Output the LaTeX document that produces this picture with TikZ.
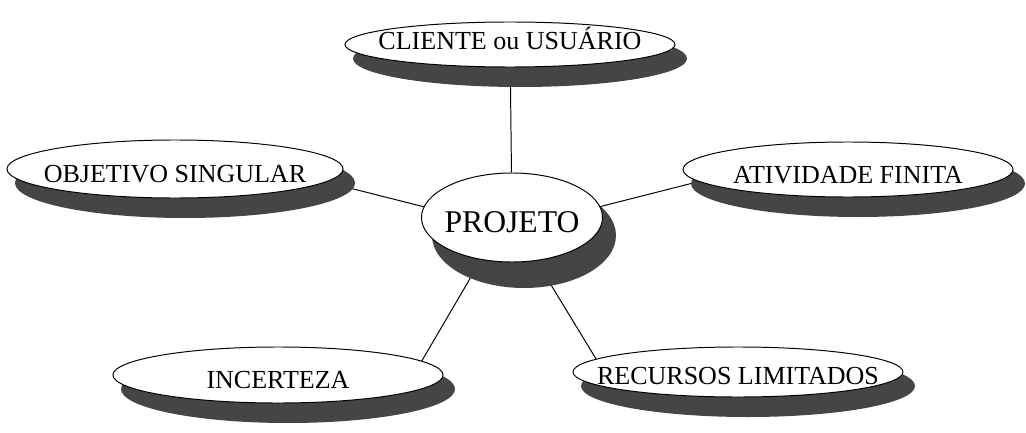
\documentclass[tikz,border=0pt]{standalone}
\usepackage{fontspec}
\setmainfont{Liberation Serif}
\usetikzlibrary{calc,shapes.geometric,backgrounds}
\definecolor{sombraCinza}{gray}{0.27}

\begin{document}
\begin{tikzpicture}[x=0.025cm, y=-0.025cm,
          bolha/.style={ellipse, draw=black, line width=0.7pt, fill=white,
                    inner sep=-30pt, minimum width=8.25cm, text depth=0pt,
                    font=\fontsize{18.5}{20}\selectfont},
          ligacao/.style={black, line width=0.7pt},
          sombra/.style={fill=sombraCinza}]
        \useasboundingbox (0,0) rectangle (1026,433);
        \node[bolha, minimum height=1.125cm, text height=7.3pt] (cli) at (510,44.5) {CLIENTE ou USUÁRIO};
        \node[bolha, minimum width=8.4cm, minimum height=1.45cm, text height=19.4pt] (obj) at (175,169) {OBJETIVO SINGULAR};
        \node[bolha, minimum height=1.375cm, text height=19.4pt] (ativ) at (848,169.5) {ATIVIDADE FINITA};
        \node[bolha, minimum width=4.525cm, minimum height=2.225cm, text height=21.3pt,
              font=\fontsize{22.5}{24}\selectfont] (proj) at (512,217.5) {PROJETO};
        \node[bolha, minimum height=1.4cm, text height=19.4pt] (inc) at (278,375) {INCERTEZA};
        \node[bolha, minimum height=1.25cm, text height=17.9pt] (rec) at (738,372) {RECURSOS LIMITADOS};
        \begin{scope}[on background layer]
          % ligacoes ate o projeto
          \draw[ligacao] (cli) -- (proj);
          \draw[ligacao] ($(proj)+(0,11.5)$) -- ($(obj)+(115,4)$);
          \draw[ligacao] ($(proj)+(0,11.5)$) -- ($(ativ)+(-88,-3.5)$);
          \draw[ligacao] ($(proj)+(-13,11.5)$) -- ($(inc)+(135,1)$);
          \draw[ligacao] ($(proj)+(5,11.5)$) -- ($(rec)+(-134,0)$);
          % sombras
          \fill[sombra] ($(cli)+(10,14)$) ellipse [x radius=167, y radius=28.5];
          \fill[sombra] ($(obj)+(10,14)$) ellipse [x radius=170, y radius=35];
          \fill[sombra] ($(ativ)+(10,14)$) ellipse [x radius=167, y radius=33.5];
          \fill[sombra] ($(proj)+(12,18)$) ellipse [x radius=92, y radius=52.5];
          \fill[sombra] ($(inc)+(10,14)$) ellipse [x radius=167, y radius=34];
          \fill[sombra] ($(rec)+(10,14)$) ellipse [x radius=167, y radius=31];
        \end{scope}
      \end{tikzpicture}
\end{document}
